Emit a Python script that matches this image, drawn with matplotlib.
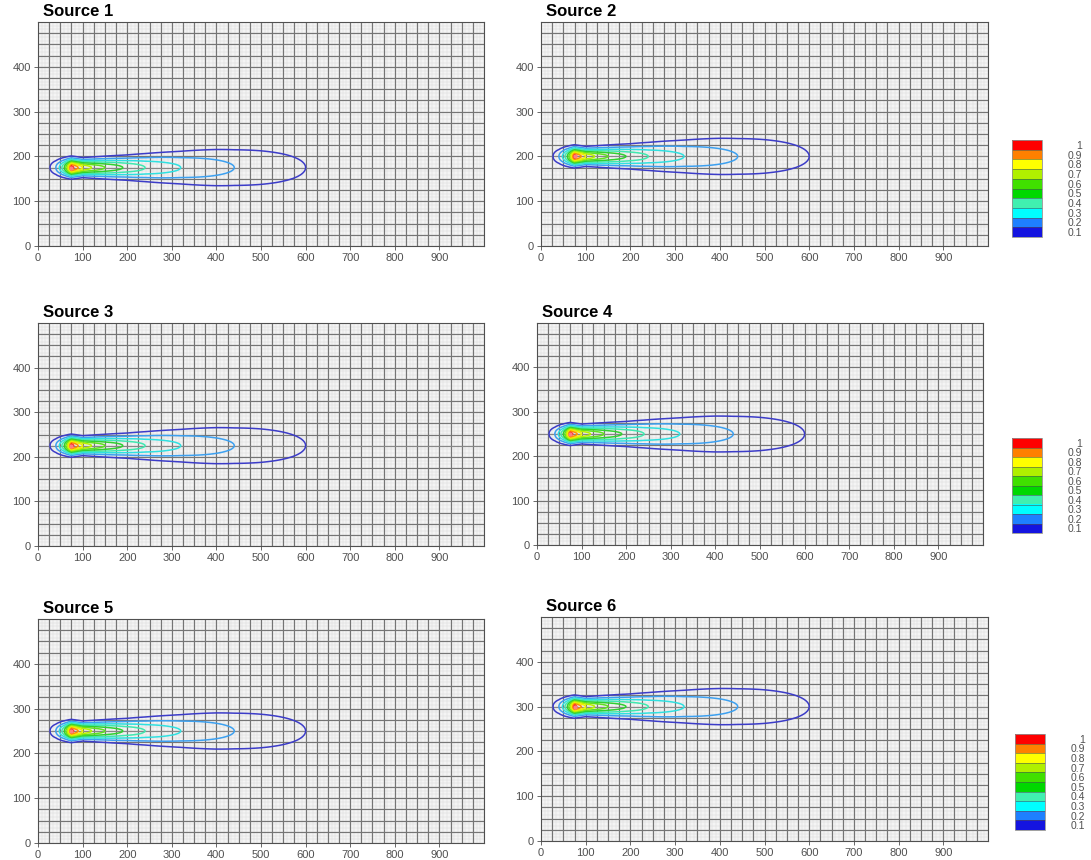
import numpy as np
import matplotlib
matplotlib.use('Agg')
import matplotlib.pyplot as plt
from matplotlib.colors import ListedColormap, BoundaryNorm
from matplotlib.cm import ScalarMappable

plt.rcParams['font.family'] = ['Liberation Sans', 'DejaVu Sans']

# concentration levels and their colours (0.1 .. 1)
levels = [0.1, 0.2, 0.3, 0.4, 0.5, 0.6, 0.7, 0.8, 0.9, 1.0]
level_colors = ['#1414e0', '#1e80ff', '#00ffff', '#40f0b0', '#00d800',
                '#40e000', '#b0f000', '#ffff00', '#ff8000', '#ff0000']
line_colors = ['#3c3cc8', '#3ca0f0', '#30e0e0', '#40e8b0', '#30d030',
               '#60e020', '#b8f000', '#f0f000', '#ff9000', '#ff2020']

# source positions (m)
source_names = ['Source 1', 'Source 2', 'Source 3', 'Source 4', 'Source 5', 'Source 6']
source_x = [75, 75, 75, 75, 75, 75]
source_y = [175, 200, 225, 250, 250, 300]

# normalised centreline concentration along the plume axis (relative to source x)
cl_dx = [-58, -48, -35, -25, -16, -9, -4, 0, 15, 25, 45, 75, 115, 165, 245, 365, 525, 625]
cl_c = [0.0, 0.1, 0.2, 0.33, 0.5, 0.7, 0.9, 1.05, 0.9, 0.8, 0.7, 0.6, 0.5, 0.4, 0.3, 0.2, 0.1, 0.05]
# lateral spread of the plume (m) against distance from source
sp_dx = [-75, -25, 0, 25, 125, 225, 325, 425, 525, 625]
sp_s = [13, 13, 12, 11, 16, 23, 31, 38, 44, 50]

# axes boxes in pixels: left, top, right, bottom
W, H = 1091, 860
boxes = [(38, 22, 484, 246), (541, 22, 988, 246),
         (38, 323, 484, 546), (537, 323, 983, 545),
         (38, 619, 484, 843), (541, 617, 988, 841)]
cbar_boxes = [(1012, 140, 1042, 237), (1012, 438, 1042, 533), (1015, 734, 1045, 830)]


def px_axes(fig, box):
    l, t, r, b = box
    return fig.add_axes([l / W, 1 - b / H, (r - l) / W, (b - t) / H])


fig = plt.figure(figsize=(W / 100, H / 100), dpi=100)

xg = np.linspace(0, 1000, 1001)
yg = np.linspace(0, 500, 801)
X, Y = np.meshgrid(xg, yg)

for i, box in enumerate(boxes):
    ax = px_axes(fig, box)
    ax.set_facecolor('#f4f4f4')
    ax.set_xlim(0, 1000)
    ax.set_ylim(0, 500)

    # fine mesh
    fine = np.arange(0, 1001, 25 / 3)
    ax.vlines(fine, 0, 500, color='#dadada', lw=0.35, zorder=0)
    ax.hlines(fine[fine <= 500], 0, 1000, color='#dadada', lw=0.35, zorder=0)
    # coarse mesh
    coarse = np.arange(25, 1000, 25)
    ax.vlines(coarse, 0, 500, color='#757575', lw=0.85, zorder=1)
    ax.hlines(coarse[coarse < 500], 0, 1000, color='#757575', lw=0.85, zorder=1)
    ax.axhline(source_y[i], color='#888888', lw=0.7, zorder=1)

    # plume field
    dx = X - source_x[i]
    amp = np.interp(dx, cl_dx, cl_c, left=0, right=0)
    sig = np.interp(dx, sp_dx, sp_s)
    C = amp * np.exp(-0.5 * ((Y - source_y[i]) / sig) ** 2)
    ax.contour(X, Y, C, levels=levels, colors=line_colors, linewidths=1.1, zorder=3)
    ax.plot(source_x[i], source_y[i], 'o', ms=2, color='#ff8080', zorder=4)

    ax.set_xticks(np.arange(0, 1000, 100))
    ax.set_yticks(np.arange(0, 500, 100))
    ax.tick_params(labelsize=8, colors='#505050', length=3, width=0.6, pad=2)
    for sp in ax.spines.values():
        sp.set_color('#505050')
        sp.set_linewidth(0.8)
    ax.text(0.012, 1.012, source_names[i], transform=ax.transAxes,
            fontsize=12, fontweight='bold', ha='left', va='bottom')

# colour legends
cmap = ListedColormap(level_colors)
bounds = np.arange(0.05, 1.1, 0.1)
norm = BoundaryNorm(bounds, cmap.N)
for box in cbar_boxes:
    cax = px_axes(fig, box)
    sm = ScalarMappable(norm=norm, cmap=cmap)
    cb = fig.colorbar(sm, cax=cax, ticks=levels, drawedges=True)
    cb.ax.minorticks_off()
    cb.ax.set_yticklabels(['0.1', '0.2', '0.3', '0.4', '0.5', '0.6', '0.7', '0.8', '0.9', '1'])
    cb.ax.tick_params(which='both', length=0, labelsize=7.5, colors='#505050', pad=29)
    for lbl in cb.ax.get_yticklabels():
        lbl.set_horizontalalignment('right')
    cb.outline.set_edgecolor('#909090')
    cb.outline.set_linewidth(0.6)
    cb.dividers.set_color('#505050')
    cb.dividers.set_linewidth(0.4)

fig.savefig('out.png', dpi=100)
